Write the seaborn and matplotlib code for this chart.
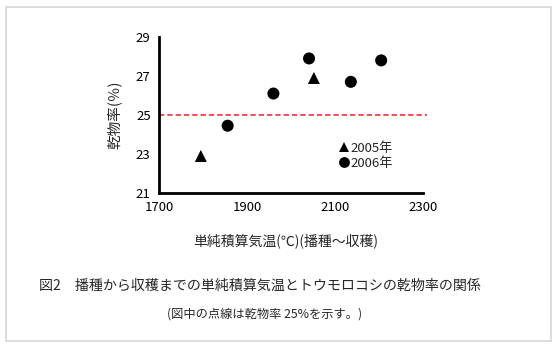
import matplotlib
matplotlib.use("Agg")
import matplotlib.pyplot as plt
import matplotlib.patches as mpatches
import seaborn as sns
import pandas as pd

# Accumulated temperature (sowing to harvest) vs. dry matter ratio of maize
years = ["2005年", "2005年", "2006年", "2006年", "2006年", "2006年", "2006年"]
temp_sum = [1795, 2052, 1856, 1960, 2041, 2136, 2205]
dry_ratio = [22.9, 26.9, 24.45, 26.1, 27.9, 26.7, 27.8]
threshold = 25

x_ticks = [1700, 1900, 2100, 2300]
y_ticks = [21, 23, 25, 27, 29]

df = pd.DataFrame({"year": years, "temp": temp_sum, "ratio": dry_ratio})

sns.set_theme(style="white")
plt.rcParams["font.family"] = ["Noto Sans CJK JP", "DejaVu Sans"]

fig = plt.figure(figsize=(5.58, 3.47), dpi=100)
ax = fig.add_axes([0.285, 0.4438, 0.473, 0.4496])

sns.scatterplot(data=df, x="temp", y="ratio", style="year",
                markers={"2005年": "^", "2006年": "o"},
                color="black", s=75, edgecolor="black", linewidth=0,
                ax=ax, legend=True, zorder=3)

ax.axhline(threshold, xmin=0, xmax=1.015, color="#e04646", lw=1.3,
           ls=(0, (3, 1.6)), clip_on=False, zorder=2)

ax.set_xlim(1700, 2300)
ax.set_ylim(21, 29)
ax.set_xticks(x_ticks)
ax.set_yticks(y_ticks)
ax.tick_params(direction="in", length=4, width=1.5, colors="black",
               labelsize=9.5, pad=6)
for side in ["top", "right"]:
    ax.spines[side].set_visible(False)
for side in ["left", "bottom"]:
    ax.spines[side].set_color("black")
    ax.spines[side].set_linewidth(2)

ax.set_xlabel("単純積算気温(℃)(播種～収穫)", fontsize=10)
ax.xaxis.set_label_coords(0.48, -0.26)
ax.set_ylabel("乾物率(％)", fontsize=10.5, labelpad=10)

leg = ax.legend(loc="upper left", bbox_to_anchor=(0.657, 0.363), frameon=False,
                fontsize=9.5, handletextpad=0.0, labelspacing=0.15,
                borderaxespad=0, handlelength=1.0, markerscale=0.9)

fig.text(0.465, 0.175, "図2　播種から収穫までの単純積算気温とトウモロコシの乾物率の関係",
         ha="center", va="center", fontsize=10.1)
fig.text(0.475, 0.095, "(図中の点線は乾物率 25%を示す。)",
         ha="center", va="center", fontsize=8.8)

fig.patches.append(mpatches.Rectangle((5.5 / 558, 1 - 340.5 / 347), 545.5 / 558,
                                      334 / 347, transform=fig.transFigure,
                                      fill=False, edgecolor="#d6d6d6", lw=1.2))

fig.savefig("out.png", dpi=100, facecolor="white")
